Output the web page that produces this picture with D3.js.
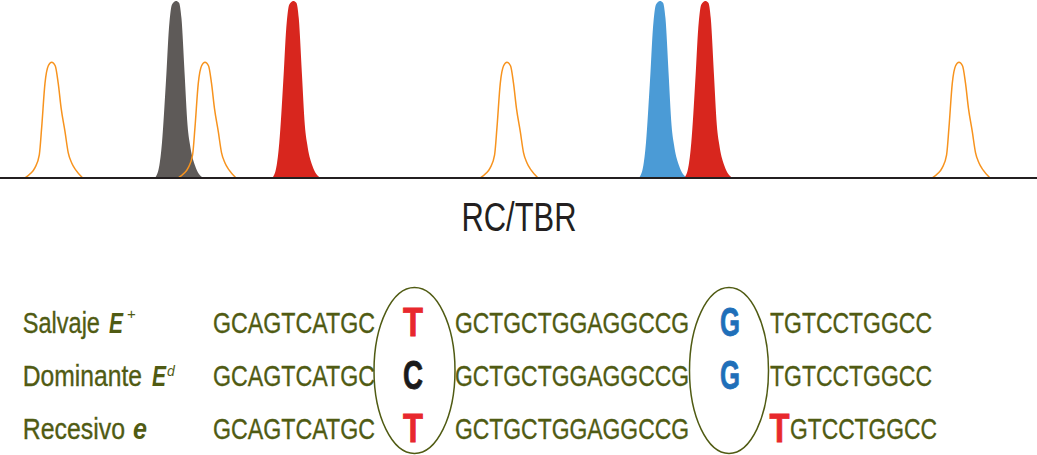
<!DOCTYPE html>
<html>
<head>
<meta charset="utf-8">
<script src="https://cdn.jsdelivr.net/npm/d3@7"></script>
<style>
  html, body { margin: 0; padding: 0; background: #fff; }
  svg { display: block; }
</style>
</head>
<body>
<svg id="chart" width="1037" height="455"></svg>
<script>
// ---------- DATA ----------
// Size-standard (orange outline) peaks: position (migration units) and signal height
const standardPositions = [51.7, 205, 507, 959];
const standardHeights   = [65, 65, 65, 65];
// Sample (filled) peaks
const samplePositions = [176, 293.3, 660, 705.3];
const sampleHeights   = [99.5, 99.5, 99.5, 99.5];
const sampleDyes      = ["black", "red", "blue", "red"];
// Peak shapes: [offset, relative height]
const standardProfile = [[-26.7,0],[-21,0.04],[-16.7,0.09],[-12.4,0.2],[-10,0.44],[-6.7,0.82],[-3.4,0.97],[0,1],[3.5,0.97],[6.5,0.82],[9.5,0.6],[13.3,0.4],[16.5,0.22],[20,0.13],[24,0.07],[31,0]];
const sampleProfile   = [[-21,0],[-17,0.06],[-14,0.2],[-10,0.55],[-7,0.85],[-4,0.98],[0,1],[3,0.99],[5.5,0.9],[8.5,0.6],[11.5,0.3],[14.5,0.17],[19,0.07],[27,0]];

const markerLabel = "RC/TBR";

const genotypes   = ["Salvaje", "Dominante", "Recesivo"];
const alleles     = ["E", "E", "e"];
const superscripts= ["+", "d", ""];
const seqLeft     = ["GCAGTCATGC", "GCAGTCATGC", "GCAGTCATGC"];
const site1       = ["T", "C", "T"];
const seqMid      = ["GCTGCTGGAGGCCG", "GCTGCTGGAGGCCG", "GCTGCTGGAGGCCG"];
const site2       = ["G", "G", ""];
const site3       = ["", "", "T"];
const seqRight    = ["TGTCCTGGCC", "TGTCCTGGCC", "GTCCTGGCC"];

// ---------- STYLE ----------
const dyeColor = { black: "#5e5a58", red: "#d8261e", blue: "#4b9bd6", orange: "#f7931e" };
const baseColor = { T: "#e8282d", C: "#1b1b1b", G: "#1f6fb9" };
const olive = "#505b13";
const FONT = "'Liberation Sans Narrow', 'Arial Narrow', 'Liberation Sans', sans-serif";

const svg = d3.select("#chart");
const x = d3.scaleLinear().domain([0, 1037]).range([0, 1037]);
const y = d3.scaleLinear().domain([0, 100]).range([178, 0]);

const area = d3.area().x(d => d[0]).y0(y(0)).y1(d => d[1]).curve(d3.curveMonotoneX);
const line = d3.line().x(d => d[0]).y(d => d[1]).curve(d3.curveMonotoneX);

function peakPoints(c, h, profile) {
  return profile.map(([dx, r]) => [x(c + dx), y(h * r)]);
}

const gPeaks = svg.append("g");
samplePositions.forEach((c, i) => {
  if (i < 2) {
    gPeaks.append("path")
      .attr("d", area(peakPoints(c, sampleHeights[i], sampleProfile)))
      .attr("fill", dyeColor[sampleDyes[i]]);
  }
});
standardPositions.forEach((c, i) => {
  gPeaks.append("path")
    .attr("d", line(peakPoints(c, standardHeights[i], standardProfile)))
    .attr("fill", "none")
    .attr("stroke", dyeColor.orange)
    .attr("stroke-width", 1.5);
});
samplePositions.forEach((c, i) => {
  if (i >= 2) {
    gPeaks.append("path")
      .attr("d", area(peakPoints(c, sampleHeights[i], sampleProfile)))
      .attr("fill", dyeColor[sampleDyes[i]]);
  }
});

// baseline
svg.append("line")
  .attr("x1", x(0)).attr("x2", x(1037))
  .attr("y1", y(0)).attr("y2", y(0))
  .attr("stroke", "#231f20").attr("stroke-width", 2);

// marker label
svg.append("text")
  .attr("x", 519).attr("y", 231)
  .attr("text-anchor", "middle")
  .attr("font-family", FONT).attr("font-size", 40)
  .attr("fill", "#231f20")
  .attr("textLength", 115).attr("lengthAdjust", "spacingAndGlyphs")
  .text(markerLabel);

// ---------- SEQUENCE ROWS ----------
const rowY = d3.scalePoint().domain(genotypes).range([333, 439]);

const gEll = svg.append("g");
[[414.5, 40.5], [729, 39.5]].forEach(([cx, rx]) => {
  gEll.append("ellipse")
    .attr("cx", cx).attr("cy", 370.5)
    .attr("rx", rx).attr("ry", 83)
    .attr("fill", "none").attr("stroke", olive).attr("stroke-width", 1.5);
});

const labelWidths = { "Salvaje": 77.3, "Dominante": 119.3, "Recesivo": 102.3 };
const alleleX = { "Salvaje": 109, "Dominante": 152, "Recesivo": 133 };

function regular(g, str, x0, yy, w) {
  g.append("text").attr("x", x0).attr("y", yy)
    .attr("font-size", 30).attr("fill", olive)
    .attr("stroke", olive).attr("stroke-width", 0.35)
    .attr("textLength", w).attr("lengthAdjust", "spacingAndGlyphs")
    .text(str);
}
function bigBase(g, letter, cx, yy) {
  g.append("text").attr("x", cx - 10).attr("y", yy + 3)
    .attr("font-size", 40).attr("font-weight", "bold")
    .attr("fill", baseColor[letter])
    .attr("stroke", baseColor[letter]).attr("stroke-width", 0.8)
    .attr("textLength", 20).attr("lengthAdjust", "spacingAndGlyphs")
    .text(letter);
}

genotypes.forEach((g, i) => {
  const yy = rowY(g);
  const row = svg.append("g").attr("font-family", FONT);
  regular(row, g, 22.7, yy, labelWidths[g]);
  row.append("text").attr("x", alleleX[g]).attr("y", yy)
    .attr("font-size", 30).attr("font-weight", "bold").attr("font-style", "italic")
    .attr("fill", olive)
    .attr("textLength", 14).attr("lengthAdjust", "spacingAndGlyphs")
    .text(alleles[i]);
  if (superscripts[i]) {
    row.append("text")
      .attr("x", alleleX[g] + (i === 0 ? 18 : 15)).attr("y", yy - (i === 0 ? 14 : 10))
      .attr("font-size", i === 0 ? 15 : 14)
      .attr("font-style", i === 0 ? "normal" : "italic")
      .attr("fill", olive)
      .text(superscripts[i]);
  }
  regular(row, seqLeft[i], 213, yy, 162);
  bigBase(row, site1[i], 413, yy);
  regular(row, seqMid[i], 455, yy, 234);
  if (site2[i]) bigBase(row, site2[i], 730, yy);
  if (site3[i]) {
    bigBase(row, site3[i], 779.5, yy);
    regular(row, seqRight[i], 790, yy, 147);
  } else {
    regular(row, seqRight[i], 770, yy, 162);
  }
});
</script>
</body>
</html>
